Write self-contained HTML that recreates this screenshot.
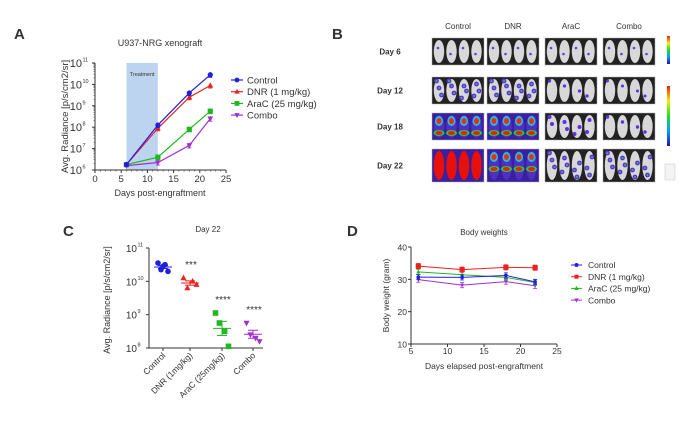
<!DOCTYPE html>
<html><head><meta charset="utf-8">
<style>
body{margin:0;background:#fff;font-family:"Liberation Sans",sans-serif;}
svg text{font-family:"Liberation Sans",sans-serif;fill:#333;}
</style></head>
<body>
<svg id="fig" width="700" height="420" xmlns="http://www.w3.org/2000/svg">
<g id="A"></g>
<g id="B"></g>
<g id="C"></g>
<g id="D"></g>
</svg>
<script>
// ---- Panel A data ----
const aDays = [6, 12, 18, 22];
const aControl = [6.25, 8.1, 9.6, 10.45];
const aDNR = [6.25, 7.95, 9.4, 9.95];
const aAraC = [6.25, 6.6, 7.9, 8.75];
const aCombo = [6.2, 6.35, 7.15, 8.4];
const aXTicks = [0, 5, 10, 15, 20, 25];
const aYTicks = [6, 7, 8, 9, 10, 11];
// ---- Panel C data ----
const cCats = ["Control", "DNR (1mg/kg)", "AraC (25mg/kg)", "Combo"];
const cControl = [10.55, 10.35, 10.5, 10.3, 10.45];
const cDNR = [10.1, 9.8, 10.0, 9.9];
const cAraC = [9.05, 8.75, 8.5, 8.05];
const cCombo = [8.75, 8.4, 8.3, 8.2];
const cStars = ["", "***", "****", "****"];
const cYTicks = [8, 9, 10, 11];
// ---- Panel D data ----
const dDays = [6, 12, 18, 22];
const dControl = [30.7, 30.6, 31.2, 29.2];
const dDNR = [34.1, 33.0, 33.7, 33.6];
const dAraC = [32.3, 31.4, 30.6, 29.0];
const dCombo = [29.9, 28.2, 29.3, 28.0];
const dXTicks = [5, 10, 15, 20, 25];
const dYTicks = [10, 20, 30, 40];

const NS = "http://www.w3.org/2000/svg";
function mk(parent, tag, attrs, txt){
  const e = document.createElementNS(NS, tag);
  for (const k in attrs) e.setAttribute(k, attrs[k]);
  if (txt !== undefined) e.textContent = txt;
  parent.appendChild(e); return e;
}
const COL = {control:"#1f1fe0", dnr:"#ee2020", arac:"#20b820", combo:"#a030d0"};

function marker(g, kind, x, y, c, s){
  let e;
  if (kind==="circle") e = mk(g,"circle",{cx:x,cy:y,r:s,fill:c});
  else if (kind==="square") e = mk(g,"rect",{x:x-s,y:y-s,width:2*s,height:2*s,fill:c});
  else if (kind==="tri") e = mk(g,"polygon",{points:`${x},${y-s*1.2} ${x-s*1.1},${y+s*0.8} ${x+s*1.1},${y+s*0.8}`,fill:c});
  else e = mk(g,"polygon",{points:`${x},${y+s*1.2} ${x-s*1.1},${y-s*0.8} ${x+s*1.1},${y-s*0.8}`,fill:c});
  
  
  return e;
}

// ================= Panel A =================
(function(){
  const g = document.getElementById("A");
  const x0=95, x1=226, yT=63, yB=170;
  const X = d => x0 + (d-0)/25*(x1-x0);
  const Y = v => yB - (v-6)/5*(yB-yT);
  mk(g,"text",{x:14,y:39,"font-size":15,"font-weight":"bold",fill:"#111",},"A");
  mk(g,"text",{x:160,y:46,"font-size":9,"text-anchor":"middle",},"U937-NRG xenograft");
  mk(g,"rect",{x:X(6),y:yT,width:X(12)-X(6),height:yB-yT,fill:"#bcd4f0",});
  mk(g,"text",{x:X(9),y:76,"font-size":5.5,"text-anchor":"middle",fill:"#666",},"Treatment");
  mk(g,"line",{x1:x0,y1:yT,x2:x0,y2:yB,stroke:"#333","stroke-width":1,});
  mk(g,"line",{x1:x0,y1:yB,x2:x1,y2:yB,stroke:"#333","stroke-width":1,});
  aXTicks.forEach(t=>{
    mk(g,"line",{x1:X(t),y1:yB,x2:X(t),y2:yB+3,stroke:"#333"});
    mk(g,"text",{x:X(t),y:yB+12,"font-size":9.5,"text-anchor":"middle",},t);
  });
  for(let t=1;t<25;t++) if(t%5) mk(g,"line",{x1:X(t),y1:yB,x2:X(t),y2:yB+1.5,stroke:"#333","stroke-width":0.6});
  aYTicks.forEach(t=>{
    mk(g,"line",{x1:x0-3,y1:Y(t),x2:x0,y2:Y(t),stroke:"#333"});
    mk(g,"text",{x:x0-13,y:Y(t)+4,"font-size":11,"text-anchor":"end",},"10");
    mk(g,"text",{x:x0-12.5,y:Y(t)-1.5,"font-size":5.5,"text-anchor":"start",},t);
    for(let m=2;m<10&&t<11;m++){const yy=Y(t+Math.log10(m));mk(g,"line",{x1:x0-1.5,y1:yy,x2:x0,y2:yy,stroke:"#333","stroke-width":0.5});}
  });
  mk(g,"text",{x:0,y:0,"font-size":9.5,"text-anchor":"middle",transform:`translate(68,${(yT+yB)/2}) rotate(-90)`,},"Avg. Radiance [p/s/cm2/sr]");
  mk(g,"text",{x:160,y:196,"font-size":9,"text-anchor":"middle",},"Days post-engraftment");
  const series=[["control",aControl,"circle"],["dnr",aDNR,"tri"],["arac",aAraC,"square"],["combo",aCombo,"down"]];
  [...series].reverse().forEach(([k,vals,m])=>{
    const sg=mk(g,"g",{});
    mk(sg,"polyline",{points:vals.map((v,i)=>X(aDays[i])+","+Y(v)).join(" "),fill:"none",stroke:COL[k],"stroke-width":1.2});
    vals.forEach((v,i)=>{ if(i>0){const e=0.12;mk(sg,"line",{x1:X(aDays[i]),y1:Y(v-e),x2:X(aDays[i]),y2:Y(v+e),stroke:COL[k],"stroke-width":0.9});
      mk(sg,"line",{x1:X(aDays[i])-2,y1:Y(v-e),x2:X(aDays[i])+2,y2:Y(v-e),stroke:COL[k],"stroke-width":0.9});}
      marker(sg,m,X(aDays[i]),Y(v),COL[k],2.6);});
  });
  const leg=[["control","Control","circle"],["dnr","DNR (1 mg/kg)","tri"],["arac","AraC (25 mg/kg)","square"],["combo","Combo","down"]];
  leg.forEach(([k,l,m],i)=>{
    const y=80+i*11.7;
    const lg=mk(g,"g",{});
    mk(lg,"line",{x1:231,y1:y,x2:243,y2:y,stroke:COL[k],"stroke-width":1.2});
    marker(lg,m,237,y,COL[k],2.4);
    mk(lg,"text",{x:247,y:y+3.5,"font-size":9.5},l);
  });
})();

// ================= Panel B =================
(function(){
  const g=document.getElementById("B");
  mk(g,"text",{x:332,y:39,"font-size":15,"font-weight":"bold",fill:"#111",},"B");
  const cols=["Control","DNR","AraC","Combo"];
  const cx=[432,487,545,603];
  const rows=["Day 6","Day 12","Day 18","Day 22"];
  const ry=[38,77,113,149], rh=[27,27,27,33];
  cols.forEach((c,i)=>mk(g,"text",{x:cx[i]+26,y:29,"font-size":8,"text-anchor":"middle",},c));
  const lvl=[[0,0,0,0],[2,2,0.5,0.2],[3,3,1.2,0.6],[4,3.5,2,2]];
  rows.forEach((r,j)=>{
    mk(g,"text",{x:390,y:ry[j]+rh[j]/2+3,"font-size":8,"font-weight":"bold","text-anchor":"middle",fill:"#333",},r);
    cols.forEach((c,i)=>{
      const L=lvl[j][i];
      const cg=mk(g,"g",{});
      const bg = L>=3?"#3a1fa0":"#222";
      mk(cg,"rect",{x:cx[i],y:ry[j],width:52,height:rh[j],fill:bg,stroke:"#aaa","stroke-width":0.5});
      for(let m=0;m<4;m++){
        const mx=cx[i]+7+m*12.5, w=5.2;
        const body = L>=4?"#e8100a":(L>=3?"#5030c0":"#d8d8d8");
        mk(cg,"ellipse",{cx:mx,cy:ry[j]+rh[j]/2,rx:w,ry:rh[j]/2-2,fill:body});
        if(L>=3&&L<4){
          mk(cg,"ellipse",{cx:mx,cy:ry[j]+8,rx:4,ry:5,fill:"#20c0e0"});
          mk(cg,"ellipse",{cx:mx,cy:ry[j]+8,rx:2.5,ry:3,fill:"#e83010"});
          mk(cg,"ellipse",{cx:mx,cy:ry[j]+20,rx:5.5,ry:3,fill:"#20d040"});
          mk(cg,"ellipse",{cx:mx,cy:ry[j]+20,rx:3.5,ry:2,fill:"#e82010"});
        } else if(L>0&&L<3){
          const n=Math.ceil(L*1.5);
          for(let s=0;s<n;s++){
            const sy=ry[j]+4+((s*7+m*5)%(rh[j]-8));
            mk(cg,"circle",{cx:mx+((s+m)%3-1)*2.5,cy:sy,r:1.4+L*0.5,fill:"#6030e0"});
            if(L>=2) mk(cg,"circle",{cx:mx+((s+m)%3-1)*2.5,cy:sy,r:1,fill:"#30c060"});
          }
        } else if(L===0){
          mk(cg,"circle",{cx:mx-1,cy:ry[j]+10+m%2*6,r:1.3,fill:"#6040e0"});
        }
      }
    });
  });
  const cb=mk(g,"g",{});
  const grad=mk(cb,"linearGradient",{id:"cbg",x1:0,y1:1,x2:0,y2:0});
  ["#2010c0","#00a0ff","#20e020","#f0f000","#f02000"].forEach((c,i)=>mk(grad,"stop",{offset:i/4,"stop-color":c}));
  mk(cb,"rect",{x:667,y:36,width:3,height:28,fill:"url(#cbg)"});
  mk(cb,"rect",{x:667,y:86,width:3,height:60,fill:"url(#cbg)"});
  mk(cb,"rect",{x:665,y:164,width:10,height:16,fill:"#f4f4f4",stroke:"#bbb","stroke-width":0.4});
})();

// ================= Panel C =================
(function(){
  const g=document.getElementById("C");
  const x0=149,x1=263,yT=248,yB=348;
  const Y=v=>yB-(v-8)/3*(yB-yT);
  const catX=[163,190,222,253];
  mk(g,"text",{x:63,y:236,"font-size":15,"font-weight":"bold",fill:"#111",},"C");
  mk(g,"text",{x:208,y:232,"font-size":8,"text-anchor":"middle",},"Day 22");
  mk(g,"line",{x1:x0,y1:yT,x2:x0,y2:yB,stroke:"#333",});
  mk(g,"line",{x1:x0,y1:yB,x2:x1,y2:yB,stroke:"#333",});
  cYTicks.forEach(t=>{
    mk(g,"line",{x1:x0-3,y1:Y(t),x2:x0,y2:Y(t),stroke:"#333"});
    mk(g,"text",{x:x0-12,y:Y(t)+4,"font-size":10,"text-anchor":"end",},"10");
    mk(g,"text",{x:x0-11.5,y:Y(t)-1.5,"font-size":5.5,},t);
  });
  mk(g,"text",{x:0,y:0,"font-size":9,"text-anchor":"middle",transform:`translate(110,${(yT+yB)/2+2}) rotate(-90)`,},"Avg. Radiance [p/s/cm2/sr]");
  const groups=[["control",cControl,"circle"],["dnr",cDNR,"tri"],["arac",cAraC,"square"],["combo",cCombo,"down"]];
  const offs=[-5,-2,2,5,0];
  groups.forEach(([k,vals,m],i)=>{
    const sg=mk(g,"g",{});
    const x=catX[i];
    mk(g,"line",{x1:x,y1:yB,x2:x,y2:yB+3,stroke:"#333"});
    mk(g,"text",{x:0,y:0,"font-size":8.5,"text-anchor":"end",transform:`translate(${x+3},${yB+8}) rotate(-45)`,},cCats[i]);
    const mean=vals.reduce((a,b)=>a+b,0)/vals.length;
    const sd=Math.sqrt(vals.reduce((a,b)=>a+(b-mean)**2,0)/(vals.length-1))/Math.sqrt(vals.length);
    vals.forEach((v,j)=>marker(sg,m,x+offs[j%5]*(vals.length===5?1:1.3),Y(v),COL[k],2.8));
    mk(sg,"line",{x1:x-9,y1:Y(mean),x2:x+9,y2:Y(mean),stroke:COL[k],"stroke-width":1});
    mk(sg,"line",{x1:x,y1:Y(mean-sd),x2:x,y2:Y(mean+sd),stroke:COL[k],"stroke-width":1});
    mk(sg,"line",{x1:x-5,y1:Y(mean-sd),x2:x+5,y2:Y(mean-sd),stroke:COL[k],"stroke-width":1});
    mk(sg,"line",{x1:x-5,y1:Y(mean+sd),x2:x+5,y2:Y(mean+sd),stroke:COL[k],"stroke-width":1});
    if(cStars[i]) mk(g,"text",{x:x+1,y:Y(Math.max(...vals))-10,"font-size":10,"text-anchor":"middle",fill:"#444",},cStars[i]);
  });
})();

// ================= Panel D =================
(function(){
  const g=document.getElementById("D");
  const x0=411,x1=557,yT=247,yB=344;
  const X=d=>x0+(d-5)/20*(x1-x0);
  const Y=v=>yB-(v-10)/30*(yB-yT);
  mk(g,"text",{x:347,y:236,"font-size":15,"font-weight":"bold",fill:"#111",},"D");
  mk(g,"text",{x:484,y:235,"font-size":8,"text-anchor":"middle",},"Body weights");
  mk(g,"line",{x1:x0,y1:yT,x2:x0,y2:yB,stroke:"#333",});
  mk(g,"line",{x1:x0,y1:yB,x2:x1,y2:yB,stroke:"#333",});
  dXTicks.forEach(t=>{
    mk(g,"line",{x1:X(t),y1:yB,x2:X(t),y2:yB+3,stroke:"#333"});
    mk(g,"text",{x:X(t),y:yB+10,"font-size":8.5,"text-anchor":"middle",},t);
  });
  dYTicks.forEach(t=>{
    mk(g,"line",{x1:x0-3,y1:Y(t),x2:x0,y2:Y(t),stroke:"#333"});
    mk(g,"text",{x:x0-4,y:Y(t)+3.5,"font-size":8.5,"text-anchor":"end",},t);
  });
  mk(g,"text",{x:0,y:0,"font-size":8.5,"text-anchor":"middle",transform:`translate(389,${(yT+yB)/2}) rotate(-90)`,},"Body weight (gram)");
  mk(g,"text",{x:484,y:369,"font-size":8.5,"text-anchor":"middle",},"Days elapsed post-engraftment");
  const series=[["combo",dCombo,"down"],["arac",dAraC,"tri"],["control",dControl,"circle"],["dnr",dDNR,"square"]];
  series.forEach(([k,vals,m])=>{
    const sg=mk(g,"g",{});
    mk(sg,"polyline",{points:vals.map((v,i)=>X(dDays[i])+","+Y(v)).join(" "),fill:"none",stroke:COL[k],"stroke-width":1});
    vals.forEach((v,i)=>{const e=0.8,x=X(dDays[i]);
      mk(sg,"line",{x1:x,y1:Y(v-e),x2:x,y2:Y(v+e),stroke:COL[k],"stroke-width":0.8});
      mk(sg,"line",{x1:x-2,y1:Y(v+e),x2:x+2,y2:Y(v+e),stroke:COL[k],"stroke-width":0.8});
      mk(sg,"line",{x1:x-2,y1:Y(v-e),x2:x+2,y2:Y(v-e),stroke:COL[k],"stroke-width":0.8});
      marker(sg,m,x,Y(v),COL[k],k==="dnr"?2.6:1.8);});
  });
  const leg=[["control","Control","circle"],["dnr","DNR (1 mg/kg)","square"],["arac","AraC (25 mg/kg)","tri"],["combo","Combo","down"]];
  leg.forEach(([k,l,m],i)=>{
    const y=265+i*11.7;
    const lg=mk(g,"g",{});
    mk(lg,"line",{x1:571,y1:y,x2:582,y2:y,stroke:COL[k],"stroke-width":1});
    marker(lg,m,576.5,y,COL[k],2);
    mk(lg,"text",{x:588,y:y+3.2,"font-size":8.5},l);
  });
})();
</script>
</body></html>
